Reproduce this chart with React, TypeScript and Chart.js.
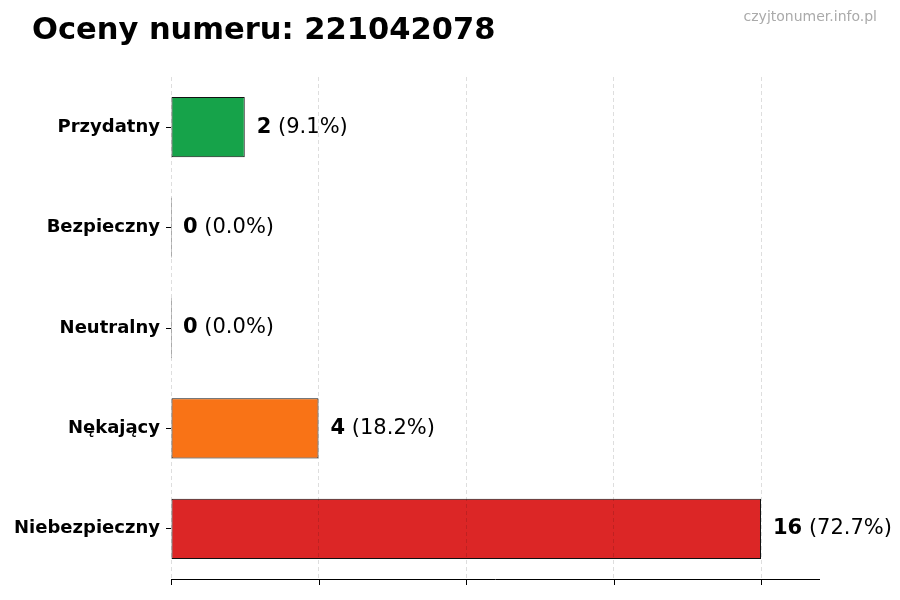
import { useEffect, useRef } from "react";
import { Chart, registerables } from "chart.js";

Chart.register(...registerables);

const categories = ["Przydatny", "Bezpieczny", "Neutralny", "Nękający", "Niebezpieczny"];
const counts = [2, 0, 0, 4, 16];
const barColors = ["#16a34a", "#16a34a", "#9ca3af", "#f97316", "#dc2626"];
const xTicks = [0, 4, 8, 12, 16];
const titleText = "Oceny numeru: 221042078";
const watermark = "czyjtonumer.info.pl";

const FONT = "'DejaVu Sans', sans-serif";

export default function App() {
  const canvasRef = useRef<HTMLCanvasElement>(null);

  useEffect(() => {
    document.body.style.margin = "0";
    const canvas = canvasRef.current;
    if (!canvas) return;

    const total = counts.reduce((a, b) => a + b, 0);

    // title, watermark, bottom axis and value labels
    const decorations = {
      id: "decorations",
      afterDraw(chart: Chart) {
        const ctx = chart.ctx;
        const area = chart.chartArea;
        const xScale = chart.scales.x;
        ctx.save();

        // bottom axis line with tick marks
        ctx.strokeStyle = "#000";
        ctx.lineWidth = 1;
        ctx.beginPath();
        ctx.moveTo(area.left, area.bottom + 0.5);
        ctx.lineTo(area.right, area.bottom + 0.5);
        xTicks.forEach((t) => {
          const px = Math.round(xScale.getPixelForValue(t)) + 0.5;
          ctx.moveTo(px, area.bottom);
          ctx.lineTo(px, area.bottom + 6);
        });
        ctx.stroke();

        ctx.fillStyle = "#000";
        ctx.textBaseline = "middle";
        ctx.textAlign = "left";
        ctx.font = `bold 30.5px ${FONT}`;
        ctx.fillText(titleText, 32, 31);

        ctx.fillStyle = "#aaaaaa";
        ctx.textAlign = "right";
        ctx.font = `14px ${FONT}`;
        ctx.fillText(watermark, 877, 17);

        const meta = chart.getDatasetMeta(0);
        meta.data.forEach((bar, i) => {
          const v = counts[i];
          const pct = ((v / total) * 100).toFixed(1);
          const x = xScale.getPixelForValue(v) + 12;
          const y = bar.y;
          ctx.fillStyle = "#000";
          ctx.textAlign = "left";
          ctx.font = `bold 21px ${FONT}`;
          const valStr = String(v);
          ctx.fillText(valStr, x, y);
          const w = ctx.measureText(valStr).width;
          ctx.font = `21px ${FONT}`;
          ctx.fillText(` (${pct}%)`, x + w, y);
        });
        ctx.restore();
      },
    };

    const chart = new Chart(canvas, {
      type: "bar",
      data: {
        labels: categories,
        datasets: [
          {
            data: counts,
            backgroundColor: barColors,
            borderColor: "#111",
            borderWidth: 1,
            borderSkipped: false,
            categoryPercentage: 1,
            barPercentage: 0.6,
            minBarLength: 1,
          },
        ],
      },
      options: {
        indexAxis: "y",
        animation: false,
        responsive: false,
        layout: { padding: { top: 77, right: 80, bottom: 0, left: 0 } },
        plugins: {
          legend: { display: false },
          tooltip: { enabled: false },
        },
        scales: {
          x: {
            min: 0,
            max: 17.6,
            afterFit: (scale: any) => {
              scale.height = 21;
            },
            afterBuildTicks: (scale: any) => {
              scale.ticks = xTicks.map((v) => ({ value: v }));
            },
            ticks: { display: false, includeBounds: false },
            grid: {
              color: "rgba(0,0,0,0.13)",
              lineWidth: 1,
              drawTicks: false,
              z: 1,
            },
            border: { display: false, dash: [4, 3] },
          },
          y: {
            afterFit: (scale: any) => {
              scale.width = 171;
            },
            ticks: {
              color: "#000",
              font: { family: FONT, size: 18, weight: "bold" },
              padding: 6,
            },
            grid: {
              offset: false,
              drawOnChartArea: false,
              drawTicks: true,
              tickLength: 5,
              tickColor: "#000",
            },
            border: { display: false },
          },
        },
      },
      plugins: [decorations],
    });

    return () => chart.destroy();
  }, []);

  return (
    <div style={{ width: 900, height: 600, background: "#fff" }}>
      <canvas ref={canvasRef} width={900} height={600}></canvas>
    </div>
  );
}
